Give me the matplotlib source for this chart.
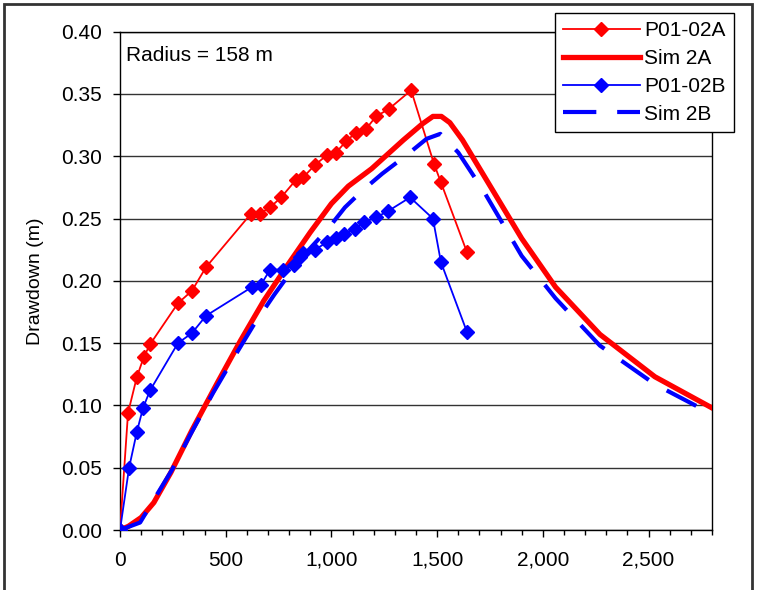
import matplotlib
matplotlib.use("Agg")
import matplotlib.pyplot as plt
from matplotlib.patches import Rectangle
from matplotlib.ticker import MultipleLocator, StrMethodFormatter

plt.rcParams['font.family'] = ['Liberation Sans', 'DejaVu Sans']

# observed drawdown, well P01-02A
obs_a_x = [0, 38, 80, 113, 142, 274, 340, 407, 620, 662, 710, 762, 832, 866, 922,
           979, 1022, 1069, 1116, 1164, 1211, 1272, 1377, 1485, 1518, 1641]
obs_a_y = [0.000, 0.094, 0.123, 0.139, 0.149, 0.182, 0.192, 0.211, 0.254, 0.254, 0.259,
           0.267, 0.281, 0.283, 0.293, 0.301, 0.303, 0.312, 0.319, 0.322, 0.332, 0.338,
           0.353, 0.294, 0.279, 0.223]

# simulated, 2A
sim_a_x = [0, 40, 100, 160, 240, 340, 460, 570, 680, 790, 900, 1000, 1080, 1190, 1340,
           1430, 1480, 1520, 1560, 1620, 1900, 2060, 2270, 2530, 2800]
sim_a_y = [0.000, 0.003, 0.010, 0.022, 0.046, 0.080, 0.118, 0.152, 0.184, 0.212, 0.239,
           0.262, 0.276, 0.290, 0.313, 0.326, 0.332, 0.332, 0.327, 0.313, 0.234, 0.195,
           0.157, 0.123, 0.098]

# observed drawdown, well P01-02B
obs_b_x = [0, 43, 80, 109, 142, 274, 340, 407, 624, 667, 710, 771, 823, 851, 866, 922,
           979, 1022, 1060, 1112, 1154, 1211, 1268, 1372, 1480, 1518, 1641]
obs_b_y = [0.000, 0.050, 0.079, 0.098, 0.112, 0.150, 0.158, 0.172, 0.195, 0.197, 0.209,
           0.209, 0.213, 0.219, 0.222, 0.225, 0.231, 0.234, 0.238, 0.242, 0.247, 0.251,
           0.256, 0.267, 0.250, 0.215, 0.159]

# simulated, 2B
sim_b_x = [0, 95, 166, 245, 331, 440, 530, 630, 730, 850, 980, 1064, 1150, 1240, 1356,
           1450, 1515, 1600, 1720, 1900, 2060, 2270, 2530, 2800]
sim_b_y = [0.000, 0.006, 0.026, 0.048, 0.076, 0.110, 0.136, 0.164, 0.189, 0.217, 0.241,
           0.259, 0.273, 0.286, 0.301, 0.314, 0.318, 0.303, 0.272, 0.220, 0.186, 0.148,
           0.117, 0.093]

fig = plt.figure(figsize=(7.64, 5.90), dpi=100)
ax = fig.add_axes([120/764, 1 - 530/590, (712 - 120)/764, (530 - 31.7)/590])

# outer chart frame (bottom edge is cut off in the original)
fig.patches.append(Rectangle((4/764, -0.2), (752 - 4)/764, 1.2 - 4/590, transform=fig.transFigure,
                             fill=False, edgecolor='#333333', linewidth=2, clip_on=False))

ax.plot(obs_a_x, obs_a_y, color='#FF0000', lw=1.3, marker='D', ms=7, mec='#FF0000',
        label='P01-02A', zorder=3)
ax.plot(sim_a_x, sim_a_y, color='#FF0000', lw=3.8, label='Sim 2A', zorder=3)
ax.plot(obs_b_x, obs_b_y, color='#0000FF', lw=1.3, marker='D', ms=7, mec='#0000FF',
        label='P01-02B', zorder=3)
ax.plot(sim_b_x, sim_b_y, color='#0000FF', lw=3.0, dashes=(8, 5), label='Sim 2B', zorder=3)

ax.set_xlim(0, 2800)
ax.set_ylim(0, 0.40)
ax.xaxis.set_major_locator(MultipleLocator(500))
ax.xaxis.set_minor_locator(MultipleLocator(100))
ax.yaxis.set_major_locator(MultipleLocator(0.05))
ax.xaxis.set_major_formatter(StrMethodFormatter('{x:,.0f}'))
ax.yaxis.set_major_formatter(StrMethodFormatter('{x:.2f}'))
ax.tick_params(axis='x', which='major', direction='out', length=5, width=1, pad=10, labelsize=15)
ax.tick_params(axis='x', which='minor', direction='out', length=3.5, width=1)
ax.tick_params(axis='y', direction='out', length=5, width=1, pad=8, labelsize=15)

ax.grid(axis='y', color='#333333', lw=1, zorder=1)
ax.set_axisbelow(True)
for s in ax.spines.values():
    s.set_color('black')
    s.set_linewidth(1)

ax.set_ylabel('Drawdown (m)', fontsize=14, labelpad=12)
ax.text(30, 0.381, 'Radius = 158 m', fontsize=15, va='center', ha='left')

leg = fig.legend(loc='upper right', bbox_to_anchor=(734/764, 1 - 13/590), fontsize=15,
                 frameon=True, fancybox=False, shadow=False, borderaxespad=0,
                 handlelength=3.7, handletextpad=0.2, borderpad=0.4, labelspacing=0.42)
leg.get_frame().set_edgecolor('black')
leg.get_frame().set_linewidth(1)
leg.get_frame().set_alpha(1)

fig.savefig('out.png', dpi=100)
